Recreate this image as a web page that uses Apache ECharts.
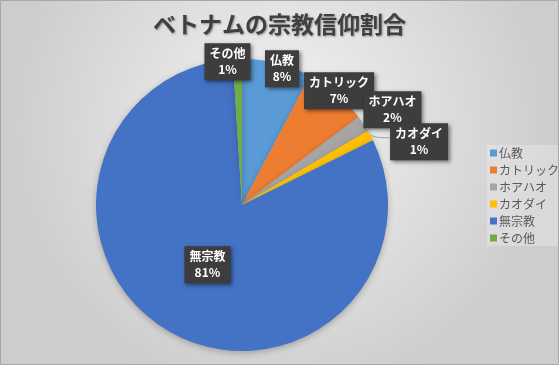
<!DOCTYPE html>
<html>
<head>
<meta charset="utf-8">
<script src="https://cdn.jsdelivr.net/npm/echarts@6/dist/echarts.min.js"></script>
<style>
html,body{margin:0;padding:0;background:#d8d8d8;}
#c{width:559px;height:365px;}
</style>
</head>
<body>
<div id="c"></div>
<script>
const titleText = 'ベトナムの宗教信仰割合';
const categories = ['仏教', 'カトリック', 'ホアハオ', 'カオダイ', '無宗教', 'その他'];
const values = [7.7, 7.0, 1.8, 1.2, 81.3, 1.0];
const colors = ['#5B9BD5', '#ED7D31', '#A5A5A5', '#FFC000', '#4472C4', '#70AD47'];

// label placement config (distance from centre, angular nudge in degrees)
const labelDist = [142, 150, 178, 188, 69, 144];
const labelShift = [2.5, 0, 1.5, 8.8, 0, -4];
const showLeader = [false, false, false, true, false, false];

const CX = 242, CY = 205, R = 146;
const FONT = '"Noto Sans CJK JP", "Noto Sans", sans-serif';

const total = values.reduce((a, b) => a + b, 0);
const midAngles = [];
let cum = 0;
values.forEach(v => { midAngles.push((cum + v / 2) / total * 360); cum += v; });

const chart = echarts.init(document.getElementById('c'), null, {renderer: 'canvas'});
chart.setOption({
  animation: false,
  backgroundColor: {
    type: 'radial', x: 0.5, y: 0.35, r: 0.75,
    colorStops: [{offset: 0, color: '#f4f4f4'}, {offset: 1, color: '#cdcdcd'}]
  },
  color: colors,
  title: {
    text: titleText,
    left: 'center',
    top: 8,
    textStyle: {
      fontFamily: FONT, fontSize: 23, fontWeight: 'bold', color: '#404040',
      textShadowColor: 'rgba(0,0,0,0.35)', textShadowBlur: 2,
      textShadowOffsetX: 1, textShadowOffsetY: 1
    }
  },
  legend: {
    orient: 'vertical',
    left: 487,
    top: 145,
    itemWidth: 7,
    itemHeight: 7,
    itemGap: 5,
    padding: [2, 4, 2, 3],
    backgroundColor: 'rgba(255,255,255,0.25)',
    icon: 'rect',
    textStyle: {fontFamily: FONT, fontSize: 12, color: '#595959', padding: [0, 0, 0, -3]},
    data: categories
  },
  graphic: [{
    type: 'rect', silent: true, z: 100,
    shape: {x: 0.5, y: 0.5, width: 558, height: 364},
    style: {fill: 'none', stroke: '#a8a8a8', lineWidth: 1}
  }],
  series: [{
    type: 'pie',
    center: [CX, CY],
    radius: [0, R],
    startAngle: 90,
    clockwise: true,
    percentPrecision: 0,
    avoidLabelOverlap: false,
    itemStyle: {
      borderWidth: 0,
      shadowBlur: 6, shadowColor: 'rgba(0,0,0,0.25)', shadowOffsetY: 2
    },
    label: {
      show: true,
      position: 'outside',
      formatter: '{b}\n{d}%',
      fontFamily: FONT, fontSize: 12, fontWeight: 'bold', color: '#ffffff',
      lineHeight: 16,
      backgroundColor: '#3d3d3d',
      padding: [3, 5, 2, 5],
      shadowColor: 'rgba(0,0,0,0.5)',
      shadowBlur: 4, shadowOffsetX: 2, shadowOffsetY: 2,
      align: 'center'
    },
    labelLine: {show: false, lineStyle: {color: '#a6a6a6', width: 1}},
    labelLayout: function (p) {
      const i = p.dataIndex;
      const a = (midAngles[i] + labelShift[i]) * Math.PI / 180;
      const d = labelDist[i];
      const x = CX + d * Math.sin(a), y = CY - d * Math.cos(a);
      const out = {x: x, y: y, align: 'center', verticalAlign: 'middle'};
      if (showLeader[i]) {
        const m = midAngles[i] * Math.PI / 180;
        const ex = CX + R * Math.sin(m), ey = CY - R * Math.cos(m);
        const lx = x - p.labelRect.width / 2;
        out.labelLinePoints = [[ex, ey], [ex + 8, ey + 2], [lx, y - 4]];
      }
      return out;
    },
    data: categories.map((c, i) => ({
      name: c,
      value: values[i],
      labelLine: {show: showLeader[i]}
    }))
  }]
});
</script>
</body>
</html>
